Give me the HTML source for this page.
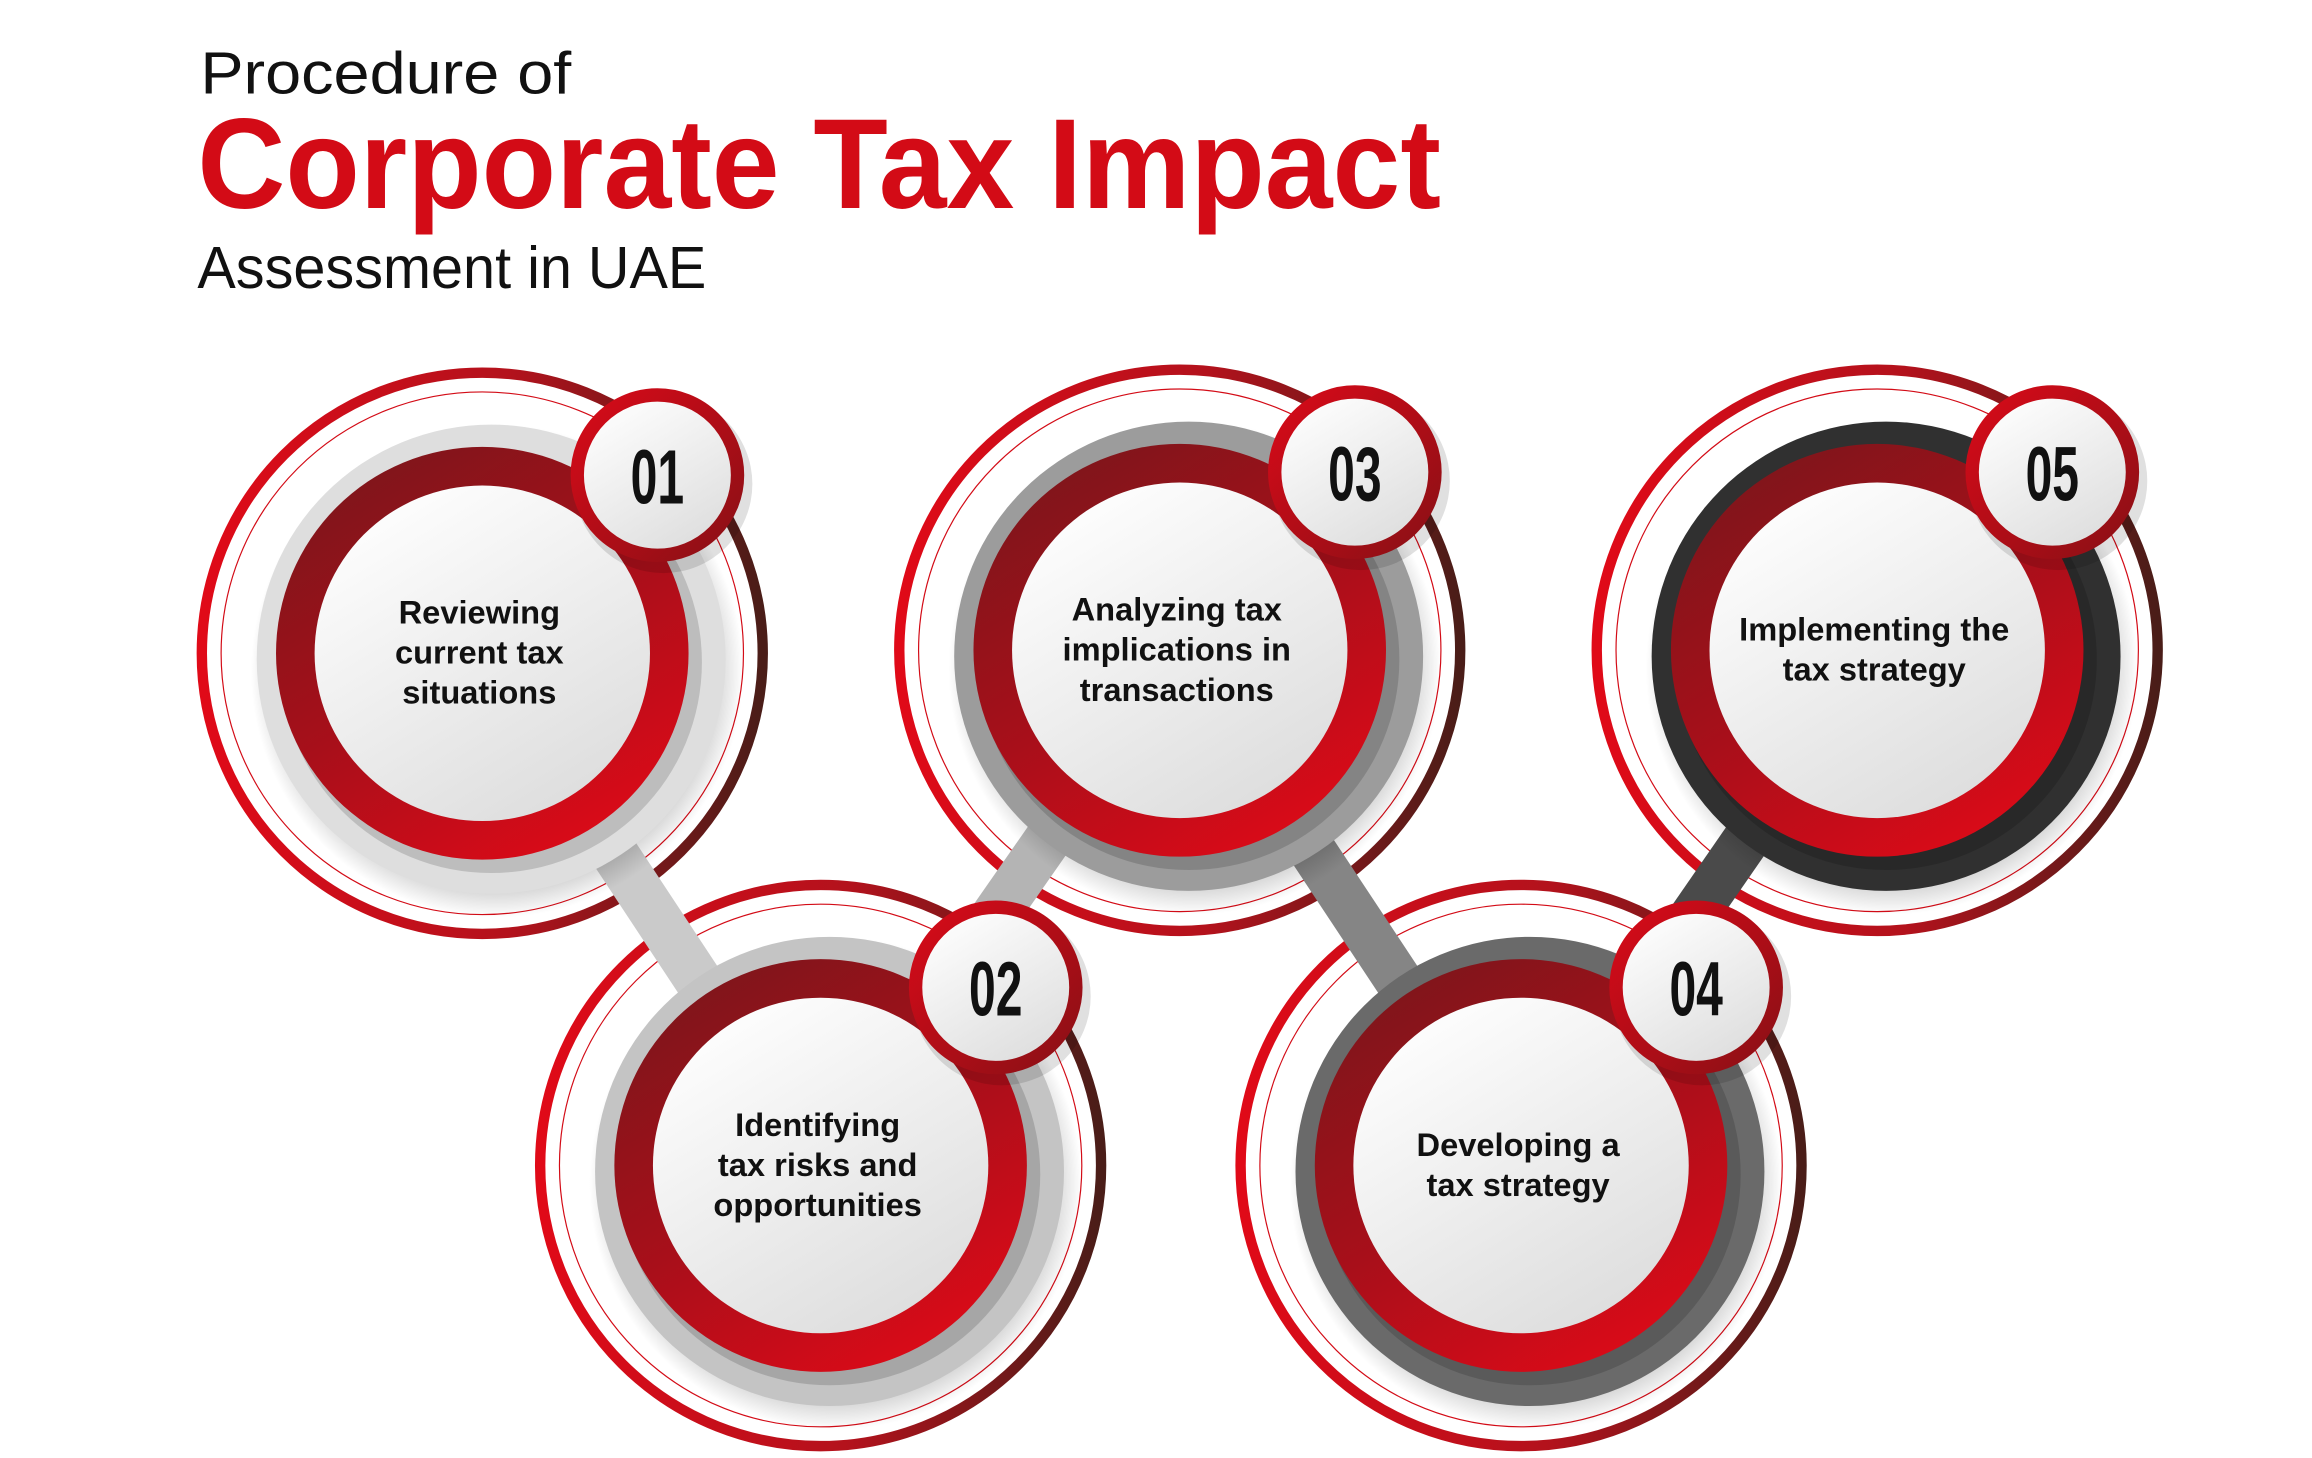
<!DOCTYPE html>
<html><head><meta charset="utf-8">
<style>
html,body{margin:0;padding:0;background:#fff;}
body{width:2312px;height:1458px;overflow:hidden;}
svg{display:block;}
.t{font-family:"Liberation Sans",sans-serif;}
</style></head>
<body>
<svg id="chart" width="2312" height="1458" viewBox="0 0 1558 982" preserveAspectRatio="none">
<defs>
<linearGradient id="outerRing" x1="0" y1="0" x2="1" y2="0">
<stop offset="0" stop-color="#e00a18"/><stop offset="0.55" stop-color="#b3121c"/><stop offset="1" stop-color="#4a1d18"/>
</linearGradient>
<linearGradient id="redRing" x1="0.2" y1="0" x2="0.8" y2="1">
<stop offset="0" stop-color="#7c161b"/><stop offset="0.5" stop-color="#a80f1a"/><stop offset="1" stop-color="#e00a18"/>
</linearGradient>
<linearGradient id="whiteFill" x1="0.2" y1="0" x2="0.8" y2="1">
<stop offset="0" stop-color="#ffffff"/><stop offset="1" stop-color="#dcdcdc"/>
</linearGradient>
<linearGradient id="badgeRing" x1="0" y1="0" x2="1" y2="1">
<stop offset="0" stop-color="#d80a18"/><stop offset="1" stop-color="#8a1016"/>
</linearGradient>
<radialGradient id="shadow" cx="0.5" cy="0.5" r="0.5">
<stop offset="0.85" stop-color="#000" stop-opacity="0.22"/><stop offset="1" stop-color="#000" stop-opacity="0"/>
</radialGradient>
</defs>
<text class="t" x="135" y="63" font-size="40" fill="#111" textLength="250" lengthAdjust="spacingAndGlyphs">Procedure of</text>
<text class="t" x="133" y="140" font-size="86" font-weight="bold" fill="#d30b16" textLength="838" lengthAdjust="spacingAndGlyphs">Corporate Tax Impact</text>
<text class="t" x="133" y="194" font-size="40" fill="#111" textLength="343" lengthAdjust="spacingAndGlyphs">Assessment in UAE</text>
<g id="rings"></g>
<g id="connectors"></g>
<g id="steps"></g>
</svg>
<script>
const stepNumbers=["01","02","03","04","05"];
const stepCx=[325,553,795,1025,1265];
const stepCy=[440,785,438,785,438];
const stepGray=["#dedede","#c4c4c4","#9c9c9c","#6a6a6a","#303030"];
const stepLabels=[["Reviewing","current tax","situations"],["Identifying","tax risks and","opportunities"],["Analyzing tax","implications in","transactions"],["Developing a","tax strategy"],["Implementing the","tax strategy"]];
const connColors=["#cacaca","#b4b4b4","#858585","#4a4a4a"];
const NS="http://www.w3.org/2000/svg";
function mk(tag,attrs,parent){const e=document.createElementNS(NS,tag);for(const k in attrs)e.setAttribute(k,attrs[k]);parent.appendChild(e);return e;}
const rg=document.getElementById('rings');
for(let i=0;i<5;i++){
 const cx=stepCx[i],cy=stepCy[i];
 const o=mk('circle',{cx:cx,cy:cy,r:189,fill:'#fff',stroke:'url(#outerRing)','stroke-width':7},rg);
 
 
 mk('circle',{cx:cx,cy:cy,r:176,fill:'none',stroke:'#d30b16','stroke-width':0.8},rg);
}
const cg=document.getElementById('connectors');
for(let i=0;i<4;i++){
 const l=mk('line',{x1:stepCx[i],y1:stepCy[i],x2:stepCx[i+1],y2:stepCy[i+1],stroke:connColors[i],'stroke-width':32},cg);
 
 
}
const sg=document.getElementById('steps');
for(let i=0;i<5;i++){
 const cx=stepCx[i],cy=stepCy[i];
 const g=mk('g',{},sg);
 
 
 mk('circle',{cx:cx+10,cy:cy+12,r:166,fill:'url(#shadow)'},g);
 const gd=mk('circle',{cx:cx+6,cy:cy+4,r:158,fill:stepGray[i]},g);
 
 
 mk('circle',{cx:cx+6,cy:cy+6,r:142,fill:'#000','fill-opacity':0.15},g);
 mk('circle',{cx:cx,cy:cy,r:139,fill:'url(#redRing)'},g);
 mk('circle',{cx:cx,cy:cy,r:113,fill:'url(#whiteFill)'},g);
 const lines=stepLabels[i];
 const lh=27, y0=cy-(lines.length-1)*lh/2+7;
 lines.forEach((s,k)=>{
  const t=mk('text',{x:cx-2,y:y0+k*lh,'text-anchor':'middle','font-size':22,'font-weight':'bold',fill:'#111',class:'t'},g);
  t.textContent=s;
  
  
 });
 const bx=cx+118,by=cy-120;
 mk('circle',{cx:bx+4,cy:by+6,r:60,fill:'#000','fill-opacity':0.12},g);
 const b=mk('circle',{cx:bx,cy:by,r:54,fill:'url(#whiteFill)',stroke:'url(#badgeRing)','stroke-width':9},g);
 
 
 const n=mk('text',{x:bx,y:by+19,'text-anchor':'middle','font-size':52,'font-weight':'bold',fill:'#111',class:'t',textLength:36,lengthAdjust:'spacingAndGlyphs'},g);
 n.textContent=stepNumbers[i];
 
 
}
</script>
</body></html>
